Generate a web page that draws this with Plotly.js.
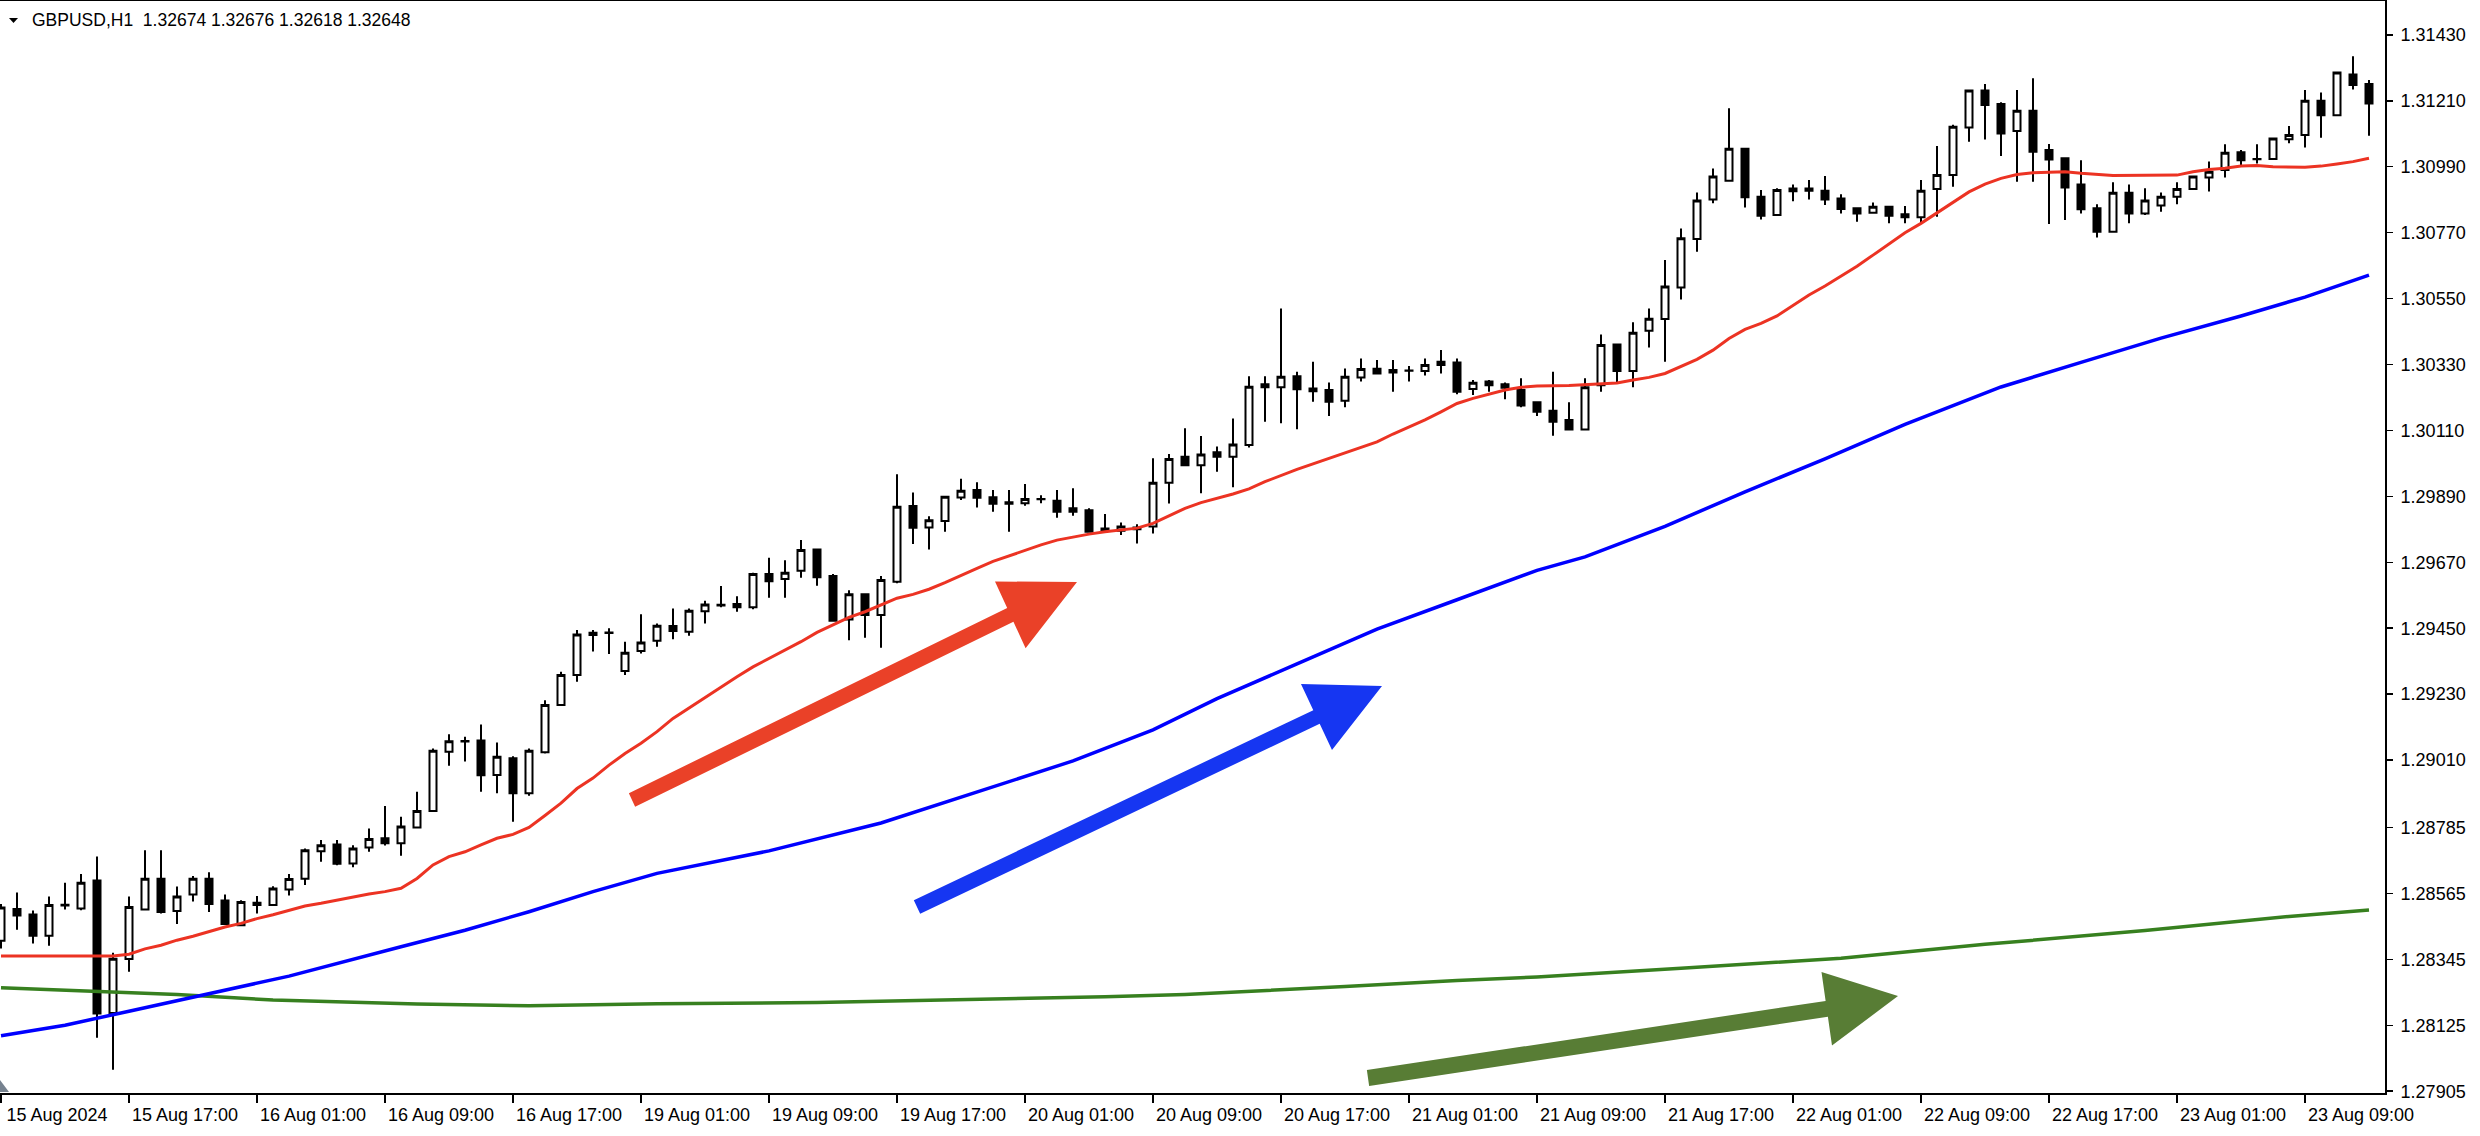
<!DOCTYPE html>
<html><head><meta charset="utf-8">
<script src="https://cdn.plot.ly/plotly-3.0.1.min.js"></script>
<style>html,body{margin:0;padding:0;background:#fff;overflow:hidden}#chart{width:2480px;height:1136px}</style>
</head><body><div id="chart"></div>
<script>
// ---- bar sessions (H1 bars) ----
const sessionDays = ["2024-08-15","2024-08-16","2024-08-19","2024-08-20","2024-08-21","2024-08-22","2024-08-23"];
const sessionFirstHour = [9,0,0,0,0,0,0];
const sessionLastHour = [23,23,23,23,23,23,13];

const open = [
1.28407,1.28513,1.28495,1.28424,1.28525,1.28515,1.28608,1.28166,1.28346,1.28511,
1.28614,1.28506,1.28561,1.28614,1.28541,1.28459,1.28534,1.28526,1.28578,1.28614,
1.28706,1.28728,1.28665,1.28718,1.28749,1.28732,1.28785,1.28840,1.29038,1.29072,
1.29075,1.28960,1.29016,1.28899,1.29036,1.29194,1.29294,1.29435,1.29434,1.29307,
1.29374,1.29408,1.29457,1.29438,1.29507,1.29528,1.29531,1.29520,1.29631,1.29614,
1.29642,1.29713,1.29624,1.29479,1.29563,1.29494,1.29605,1.29858,1.29786,1.29808,
1.29886,1.29911,1.29887,1.29870,1.29867,1.29880,1.29875,1.29850,1.29844,1.29783,
1.29775,1.29786,1.29789,1.29935,1.30022,1.29994,1.30037,1.30022,1.30061,1.30264,
1.30254,1.30291,1.30250,1.30245,1.30209,1.30287,1.30316,1.30312,1.30309,1.30308,
1.30339,1.30337,1.30248,1.30273,1.30264,1.30245,1.30204,1.30176,1.30145,1.30113,
1.30261,1.30397,1.30308,1.30443,1.30482,1.30587,1.30749,1.30881,1.30943,1.31050,
1.30890,1.30829,1.30917,1.30917,1.30910,1.30884,1.30851,1.30836,1.30856,1.30831,
1.30821,1.30916,1.30962,1.31121,1.31244,1.31199,1.31109,1.31177,1.31046,1.31018,
1.30931,1.30851,1.30773,1.30903,1.30834,1.30861,1.30890,1.30916,1.30954,1.30979,
1.31038,1.31015,1.31016,1.31082,1.31096,1.31210,1.31162,1.31298,1.31266];
const high = [
1.28530,1.28568,1.28508,1.28555,1.28601,1.28630,1.28688,1.28367,1.28555,1.28709,
1.28709,1.28588,1.28623,1.28636,1.28561,1.28542,1.28556,1.28589,1.28630,1.28715,
1.28743,1.28743,1.28726,1.28782,1.28857,1.28821,1.28904,1.29049,1.29096,1.29088,
1.29129,1.29069,1.29023,1.29049,1.29210,1.29305,1.29444,1.29444,1.29450,1.29405,
1.29497,1.29466,1.29516,1.29516,1.29542,1.29591,1.29557,1.29635,1.29685,1.29677,
1.29744,1.29713,1.29631,1.29577,1.29563,1.29624,1.29964,1.29903,1.29824,1.29889,
1.29949,1.29937,1.29911,1.29911,1.29931,1.29894,1.29911,1.29917,1.29850,1.29831,
1.29803,1.29797,1.30017,1.30031,1.30117,1.30091,1.30056,1.30150,1.30291,1.30291,
1.30517,1.30306,1.30339,1.30270,1.30317,1.30350,1.30345,1.30345,1.30325,1.30350,
1.30378,1.30350,1.30278,1.30278,1.30270,1.30284,1.30204,1.30306,1.30204,1.30284,
1.30430,1.30397,1.30471,1.30517,1.30679,1.30784,1.30904,1.30984,1.31185,1.31050,
1.30912,1.30918,1.30931,1.30946,1.30959,1.30898,1.30851,1.30871,1.30856,1.30859,
1.30946,1.31059,1.31130,1.31244,1.31266,1.31205,1.31246,1.31285,1.31066,1.31018,
1.31012,1.30865,1.30938,1.30931,1.30918,1.30904,1.30938,1.30957,1.31007,1.31065,
1.31046,1.31065,1.31084,1.31126,1.31246,1.31238,1.31304,1.31359,1.31279];
const low = [
1.28381,1.28444,1.28398,1.28390,1.28511,1.28509,1.28083,1.27977,1.28304,1.28511,
1.28498,1.28463,1.28538,1.28503,1.28463,1.28456,1.28498,1.28523,1.28558,1.28593,
1.28671,1.28659,1.28652,1.28704,1.28725,1.28691,1.28785,1.28840,1.28991,1.29005,
1.28904,1.28899,1.28804,1.28891,1.29032,1.29194,1.29271,1.29372,1.29364,1.29294,
1.29366,1.29388,1.29413,1.29425,1.29466,1.29520,1.29505,1.29513,1.29552,1.29552,
1.29618,1.29592,1.29475,1.29410,1.29418,1.29385,1.29600,1.29731,1.29713,1.29772,
1.29878,1.29853,1.29839,1.29772,1.29859,1.29867,1.29819,1.29825,1.29772,1.29772,
1.29761,1.29733,1.29766,1.29866,1.29994,1.29900,1.29972,1.29920,1.30053,1.30139,
1.30134,1.30114,1.30206,1.30158,1.30187,1.30273,1.30300,1.30239,1.30273,1.30293,
1.30300,1.30231,1.30228,1.30239,1.30214,1.30187,1.30158,1.30092,1.30113,1.30113,
1.30239,1.30267,1.30254,1.30387,1.30339,1.30547,1.30706,1.30868,1.30943,1.30854,
1.30814,1.30829,1.30875,1.30881,1.30862,1.30834,1.30806,1.30836,1.30801,1.30801,
1.30801,1.30823,1.30923,1.31073,1.31081,1.31026,1.30940,1.30940,1.30799,1.30812,
1.30834,1.30754,1.30773,1.30801,1.30829,1.30840,1.30865,1.30916,1.30907,1.30954,
1.30996,1.31001,1.31016,1.31068,1.31054,1.31087,1.31162,1.31248,1.31093];
const close = [
1.28518,1.28491,1.28424,1.28526,1.28527,1.28601,1.28164,1.28347,1.28520,1.28614,
1.28503,1.28555,1.28614,1.28530,1.28463,1.28536,1.28526,1.28581,1.28613,1.28709,
1.28726,1.28664,1.28715,1.28747,1.28732,1.28788,1.28840,1.29041,1.29073,1.29074,
1.28959,1.29021,1.28899,1.29041,1.29194,1.29294,1.29429,1.29427,1.29436,1.29368,
1.29402,1.29458,1.29441,1.29508,1.29529,1.29526,1.29520,1.29631,1.29607,1.29635,
1.29711,1.29620,1.29475,1.29563,1.29494,1.29611,1.29855,1.29785,1.29810,1.29889,
1.29909,1.29885,1.29865,1.29865,1.29881,1.29881,1.29839,1.29839,1.29772,1.29778,
1.29789,1.29780,1.29935,1.30015,1.29994,1.30030,1.30022,1.30063,1.30256,1.30254,
1.30289,1.30247,1.30241,1.30206,1.30289,1.30315,1.30300,1.30303,1.30310,1.30328,
1.30328,1.30239,1.30269,1.30261,1.30252,1.30193,1.30172,1.30139,1.30113,1.30254,
1.30395,1.30308,1.30436,1.30483,1.30590,1.30751,1.30877,1.30957,1.31050,1.30888,
1.30826,1.30912,1.30908,1.30910,1.30881,1.30849,1.30834,1.30856,1.30826,1.30821,
1.30910,1.30962,1.31123,1.31244,1.31196,1.31101,1.31177,1.31040,1.31014,1.30921,
1.30848,1.30773,1.30903,1.30834,1.30877,1.30890,1.30916,1.30957,1.30973,1.31037,
1.31012,1.31016,1.31084,1.31096,1.31210,1.31162,1.31304,1.31263,1.31201];

// moving averages: [bar index, value]
const redMA = [[0,1.28356],[7,1.28356],[8,1.28362],[9,1.28380],[10,1.28392],[11,1.28409],[12,1.28422],[13,1.28437],[14,1.28453],[15,1.28465],[16,1.28481],[17,1.28494],[18,1.28509],[19,1.28523],[20,1.28532],[21,1.28543],[22,1.28554],[23,1.28563],[24,1.28571],[25,1.28582],[26,1.28615],[27,1.28660],[28,1.28688],[29,1.28704],[30,1.28727],[31,1.28749],[32,1.28762],[33,1.28785],[34,1.28825],[35,1.28866],[36,1.28915],[37,1.28950],[38,1.28993],[39,1.29032],[40,1.29066],[41,1.29105],[42,1.29149],[44,1.29220],[46,1.29288],[47,1.29321],[48,1.29349],[49,1.29377],[50,1.29405],[51,1.29436],[52,1.29461],[53,1.29486],[54,1.29505],[55,1.29527],[56,1.29550],[57,1.29563],[58,1.29580],[59,1.29602],[60,1.29627],[61,1.29650],[62,1.29673],[63,1.29691],[64,1.29711],[65,1.29728],[66,1.29744],[67,1.29755],[68,1.29764],[69,1.29772],[70,1.29778],[71,1.29784],[72,1.29800],[73,1.29824],[74,1.29850],[75,1.29869],[76,1.29883],[77,1.29898],[78,1.29915],[79,1.29939],[81,1.29980],[83,1.30017],[84,1.30033],[85,1.30052],[86,1.30072],[87,1.30098],[88,1.30122],[89,1.30145],[90,1.30172],[91,1.30200],[92,1.30217],[93,1.30230],[94,1.30245],[95,1.30254],[96,1.30258],[98,1.30260],[100,1.30264],[101,1.30268],[102,1.30278],[103,1.30287],[104,1.30300],[105,1.30323],[106,1.30347],[107,1.30378],[108,1.30417],[109,1.30447],[110,1.30467],[111,1.30492],[112,1.30528],[113,1.30562],[114,1.30592],[115,1.30625],[116,1.30658],[117,1.30695],[118,1.30734],[119,1.30770],[120,1.30801],[121,1.30836],[122,1.30873],[123,1.30906],[124,1.30932],[125,1.30951],[126,1.30964],[127,1.30970],[129,1.30973],[130,1.30968],[132,1.30961],[136,1.30962],[137,1.30973],[138,1.30981],[139,1.30985],[140,1.30992],[141,1.30994],[142,1.30990],[144,1.30988],[145,1.30992],[146,1.30999],[147,1.31007],[148,1.31018]];
const blueMA = [[0,1.28090],[4,1.28125],[8,1.28172],[12,1.28220],[16,1.28267],[18,1.28289],[25,1.28387],[29,1.28442],[33,1.28504],[37,1.28571],[41,1.28632],[48,1.28707],[55,1.28800],[61,1.28904],[67,1.29007],[72,1.29111],[76,1.29215],[81,1.29331],[86,1.29447],[91,1.29545],[96,1.29643],[99,1.29688],[104,1.29790],[109,1.29905],[114,1.30015],[119,1.30130],[125,1.30255],[130,1.30337],[135,1.30418],[140,1.30492],[144,1.30555],[148,1.30628]];
const greenMA = [[0,1.28250],[6,1.28239],[11,1.28228],[17,1.28209],[26,1.28196],[33,1.28190],[41,1.28197],[51,1.28201],[61,1.28211],[69,1.28220],[74,1.28228],[79,1.28240],[84,1.28254],[91,1.28274],[96,1.28286],[105,1.28315],[115,1.28349],[124,1.28395],[134,1.28441],[143,1.28488],[148,1.28510]];

const xTickBars = [0,8,16,24,32,40,48,56,64,72,80,88,96,104,112,120,128,136,144];
const xTickLabels = ["15 Aug 2024","15 Aug 17:00","16 Aug 01:00","16 Aug 09:00","16 Aug 17:00","19 Aug 01:00","19 Aug 09:00","19 Aug 17:00","20 Aug 01:00","20 Aug 09:00","20 Aug 17:00","21 Aug 01:00","21 Aug 09:00","21 Aug 17:00","22 Aug 01:00","22 Aug 09:00","22 Aug 17:00","23 Aug 01:00","23 Aug 09:00"];
const yTickValues = [1.31430,1.31210,1.30990,1.30770,1.30550,1.30330,1.30110,1.29890,1.29670,1.29450,1.29230,1.29010,1.28785,1.28565,1.28345,1.28125,1.27905];
const yTickLabels = ["1.31430","1.31210","1.30990","1.30770","1.30550","1.30330","1.30110","1.29890","1.29670","1.29450","1.29230","1.29010","1.28785","1.28565","1.28345","1.28125","1.27905"];
const titleText = "GBPUSD,H1\u00a0\u00a01.32674 1.32676 1.32618 1.32648";

// ---- build ----
const barTimes = [];
sessionDays.forEach((d, k) => {
  for (let h = sessionFirstHour[k]; h <= sessionLastHour[k]; h++) barTimes.push(d + " " + String(h).padStart(2, "0") + ":00");
});

const FONT = '"Liberation Sans", Arial, sans-serif';
const W = 2480, H = 1136;
const M = {l: 0, r: 95, t: 1, b: 43};
const PW = W - M.l - M.r, PH = H - M.t - M.b;
const px = x => x / PW;
const py = y => (M.t + PH - y) / PH;

function maTrace(pairs, color, width) {
  return {type: "scatter", mode: "lines", x: pairs.map(p => barTimes[p[0]]), y: pairs.map(p => p[1]),
    line: {color: color, width: width}, hoverinfo: "skip", showlegend: false};
}

function arrowPath(tail, a, tip, c, h) {
  const m = [(a[0] + c[0]) / 2, (a[1] + c[1]) / 2];
  let nx = a[0] - m[0], ny = a[1] - m[1];
  const L = Math.hypot(nx, ny); nx /= L; ny /= L;
  const pts = [
    [tail[0] + h * nx, tail[1] + h * ny], [m[0] + h * nx, m[1] + h * ny], a, tip, c,
    [m[0] - h * nx, m[1] - h * ny], [tail[0] - h * nx, tail[1] - h * ny]];
  return "M" + pts.map(p => px(p[0]).toFixed(5) + "," + py(p[1]).toFixed(5)).join("L") + "Z";
}

const traces = [
  {type: "candlestick", x: barTimes, open: open, high: high, low: low, close: close,
   increasing: {line: {color: "#000000", width: 2}, fillcolor: "#ffffff"},
   decreasing: {line: {color: "#000000", width: 2}, fillcolor: "#000000"},
   whiskerwidth: 0, hoverinfo: "skip", showlegend: false},
  maTrace(greenMA, "#37801f", 3.5),
  maTrace(blueMA, "#0000ff", 3.5),
  maTrace(redMA, "#ec3323", 3)
];

const layout = {
  width: W, height: H, margin: M, paper_bgcolor: "#ffffff", plot_bgcolor: "#ffffff",
  showlegend: false, hovermode: false, boxgap: 0.5625, boxgroupgap: 0,
  font: {family: FONT, size: 18, color: "#000"},
  xaxis: {type: "category", range: [-0.0625, (PW - 1) / 16], autorange: false,
    rangeslider: {visible: false}, showgrid: false, zeroline: false,
    showline: true, linecolor: "#000", linewidth: 2, mirror: true,
    ticks: "outside", ticklen: 8, tickwidth: 1.5, tickcolor: "#000",
    tickvals: xTickBars.map(i => barTimes[i]), ticktext: xTickLabels, tickangle: 0,
    ticklabelshift: 56, ticklabelstandoff: -4, tickfont: {family: FONT, size: 18, color: "#000"}},
  yaxis: {side: "right", range: [1.27899, 1.31543], autorange: false,
    showgrid: false, zeroline: false, showline: true, linecolor: "#000", linewidth: 2,
    ticks: "outside", ticklen: 6, tickwidth: 1.5, tickcolor: "#000",
    tickvals: yTickValues, ticktext: yTickLabels, ticklabelstandoff: 4,
    tickfont: {family: FONT, size: 18, color: "#000"}},
  shapes: [
    {type: "path", xref: "paper", yref: "paper", layer: "above", line: {width: 0}, fillcolor: "#ea4128",
     path: arrowPath([632, 800], [995, 581.5], [1077, 582], [1025.6, 648.3], 7.5)},
    {type: "path", xref: "paper", yref: "paper", layer: "above", line: {width: 0}, fillcolor: "#1636f2",
     path: arrowPath([917, 907], [1301, 684], [1382, 686], [1332, 750], 7.5)},
    {type: "path", xref: "paper", yref: "paper", layer: "above", line: {width: 0}, fillcolor: "#587d35",
     path: arrowPath([1368, 1078], [1821.5, 972], [1898, 996], [1832, 1045.6], 8)},
    {type: "path", xref: "paper", yref: "paper", layer: "above", line: {width: 0}, fillcolor: "#000",
     path: "M" + px(9) + "," + py(18) + "L" + px(18) + "," + py(18) + "L" + px(13.5) + "," + py(23) + "Z"},
    {type: "path", xref: "paper", yref: "paper", layer: "above", line: {width: 0}, fillcolor: "#76828f",
     path: "M" + px(0) + "," + py(1080) + "L" + px(0) + "," + py(1092) + "L" + px(9) + "," + py(1092) + "Z"}
  ],
  annotations: [
    {text: titleText, xref: "paper", yref: "paper", x: px(30), y: py(20), xanchor: "left", yanchor: "middle",
     showarrow: false, font: {family: FONT, size: 17.5, color: "#000"}}
  ]
};

Plotly.newPlot("chart", traces, layout, {staticPlot: true, displayModeBar: false});
</script>
</body></html>
